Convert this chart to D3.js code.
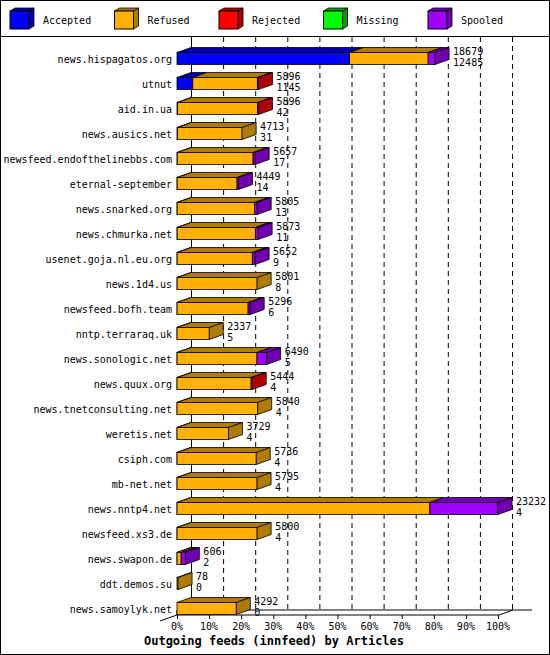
<!DOCTYPE html>
<html><head><meta charset="utf-8">
<script src="https://cdn.jsdelivr.net/npm/d3@7"></script>
<style>body{margin:0;background:#fff}</style>
</head><body>
<div class="CHART"></div>
<script>
// data
var hosts = ["news.hispagatos.org","utnut","aid.in.ua","news.ausics.net","newsfeed.endofthelinebbs.com",
  "eternal-september","news.snarked.org","news.chmurka.net","usenet.goja.nl.eu.org","news.1d4.us",
  "newsfeed.bofh.team","nntp.terraraq.uk","news.sonologic.net","news.quux.org","news.tnetconsulting.net",
  "weretis.net","csiph.com","mb-net.net","news.nntp4.net","newsfeed.xs3.de","news.swapon.de",
  "ddt.demos.su","news.samoylyk.net"];
var offered  = [18679,5896,5896,4713,5657,4449,5805,5873,5652,5801,5296,2337,6490,5444,5840,3729,5736,5795,23232,5800,606,78,4292];
var accepted = [12485,1145,42,31,17,14,13,11,9,8,6,5,5,4,4,4,4,4,4,4,2,0,0];
var rejected = [0,80,58,0,0,0,0,0,0,0,0,0,0,80,0,0,0,0,0,0,0,0,0];
var missing  = [0,0,0,0,0,0,0,0,0,0,0,0,0,0,0,0,0,0,0,0,0,0,0];
var spooled  = [500,0,0,0,150,100,200,200,200,0,150,0,700,0,0,0,0,0,4928,0,304,0,0];
var legendNames = ["Accepted","Refused","Rejected","Missing","Spooled"];
var tickLabels = ["0%","10%","20%","30%","40%","50%","60%","70%","80%","90%","100%"];

var front = ["#0000ff","#ffb000","#ff0000","#00ff00","#a000ff"];
var dark  = ["#0000a8","#b07c00","#b00000","#00a000","#7000b0"];
var font = "'DejaVu Sans Mono', monospace";
var dx = 14, dy = 5;

var svg = d3.select(".CHART").append("svg").attr("width",550).attr("height",655)
  .style("font-family",font).style("font-size","10px");
svg.append("rect").attr("x",0.5).attr("y",0.5).attr("width",549).attr("height",654)
  .attr("fill","#fff").attr("stroke","#000");
svg.append("line").attr("x1",0).attr("x2",550).attr("y1",36.5).attr("y2",36.5).attr("stroke","#000");

// legend
legendNames.forEach(function(n,i){
  var x = 10 + i*104.5, y = 11;
  svg.append("path").attr("d","M"+(x+19)+","+y+"l5,-3v18l-5,3z").attr("fill",dark[i]).attr("stroke","#000").attr("stroke-width",0.8);
  svg.append("path").attr("d","M"+x+","+y+"l5,-3h19l-5,3z").attr("fill",dark[i]).attr("stroke","#000").attr("stroke-width",0.8);
  svg.append("rect").attr("x",x).attr("y",y).attr("width",19).attr("height",18).attr("fill",front[i]).attr("stroke","#000");
  svg.append("text").attr("x",x+33).attr("y",y+13).text(n);
});

var x = d3.scaleLinear().domain([0,d3.max(offered)]).range([177,498]);
var y = d3.scaleBand().domain(hosts).range([46,621]);
var floorY = 615;

// back wall grid
svg.append("line").attr("x1",191.5).attr("x2",191.5).attr("y1",37).attr("y2",floorY-dy).attr("stroke","#000");
tickLabels.forEach(function(t,i){
  var px = x.range()[0] + (x.range()[1]-x.range()[0])*i/10;
  if(i>0) svg.append("line").attr("x1",px+dx+0.5).attr("x2",px+dx+0.5).attr("y1",37).attr("y2",floorY-dy)
    .attr("stroke","#000").attr("stroke-dasharray","5,4");
  svg.append("line").attr("x1",px+0.5).attr("x2",px+0.5).attr("y1",floorY).attr("y2",floorY+4).attr("stroke","#000");
  svg.append("text").attr("x",px).attr("y",floorY+15).attr("text-anchor","middle").text(t);
});
// floor
svg.append("path").attr("d","M160,"+(floorY+6)+"L177,"+floorY+"H499L"+(499+dx)+","+(floorY-dy)+"M191,"+(floorY-dy)+"H532")
  .attr("fill","none").attr("stroke","#000");
svg.append("line").attr("x1",177).attr("x2",177).attr("y1",floorY-dy).attr("y2",floorY).attr("stroke","#000");

// bars
hosts.forEach(function(h,i){
  var cy = y(h) + y.bandwidth()/2, top = cy-6, ht = 12;
  var refused = offered[i]-accepted[i]-rejected[i]-missing[i]-spooled[i];
  var vals = [accepted[i],refused,rejected[i],missing[i],spooled[i]];
  var acc = 0, lastK = 0;
  vals.forEach(function(v,k){
    if(v<=0) return;
    var x0 = x(acc), x1 = x(acc+v); acc += v; lastK = k;
    svg.append("path").attr("d","M"+x0+","+top+"l"+dx+","+(-dy)+"H"+(x1+dx)+"l"+(-dx)+","+dy+"z")
      .attr("fill",dark[k]).attr("stroke","#000").attr("stroke-width",0.8);
    svg.append("rect").attr("x",x0).attr("y",top).attr("width",x1-x0).attr("height",ht)
      .attr("fill",front[k]).attr("stroke","#000").attr("stroke-width",0.8);
  });
  var xe = x(acc);
  svg.append("path").attr("d","M"+xe+","+top+"l"+dx+","+(-dy)+"v"+ht+"l"+(-dx)+","+dy+"z")
    .attr("fill",dark[lastK]).attr("stroke","#000").attr("stroke-width",0.8);
  svg.append("text").attr("x",172).attr("y",cy+4).attr("text-anchor","end").text(h);
  svg.append("text").attr("x",xe+dx+4).attr("y",cy-4).text(offered[i]);
  svg.append("text").attr("x",xe+dx+4).attr("y",cy+7).text(accepted[i]);
});

svg.append("text").attr("x",274).attr("y",645).attr("text-anchor","middle")
  .style("font-weight","bold").style("font-size","12px").text("Outgoing feeds (innfeed) by Articles");
</script>
</body></html>
